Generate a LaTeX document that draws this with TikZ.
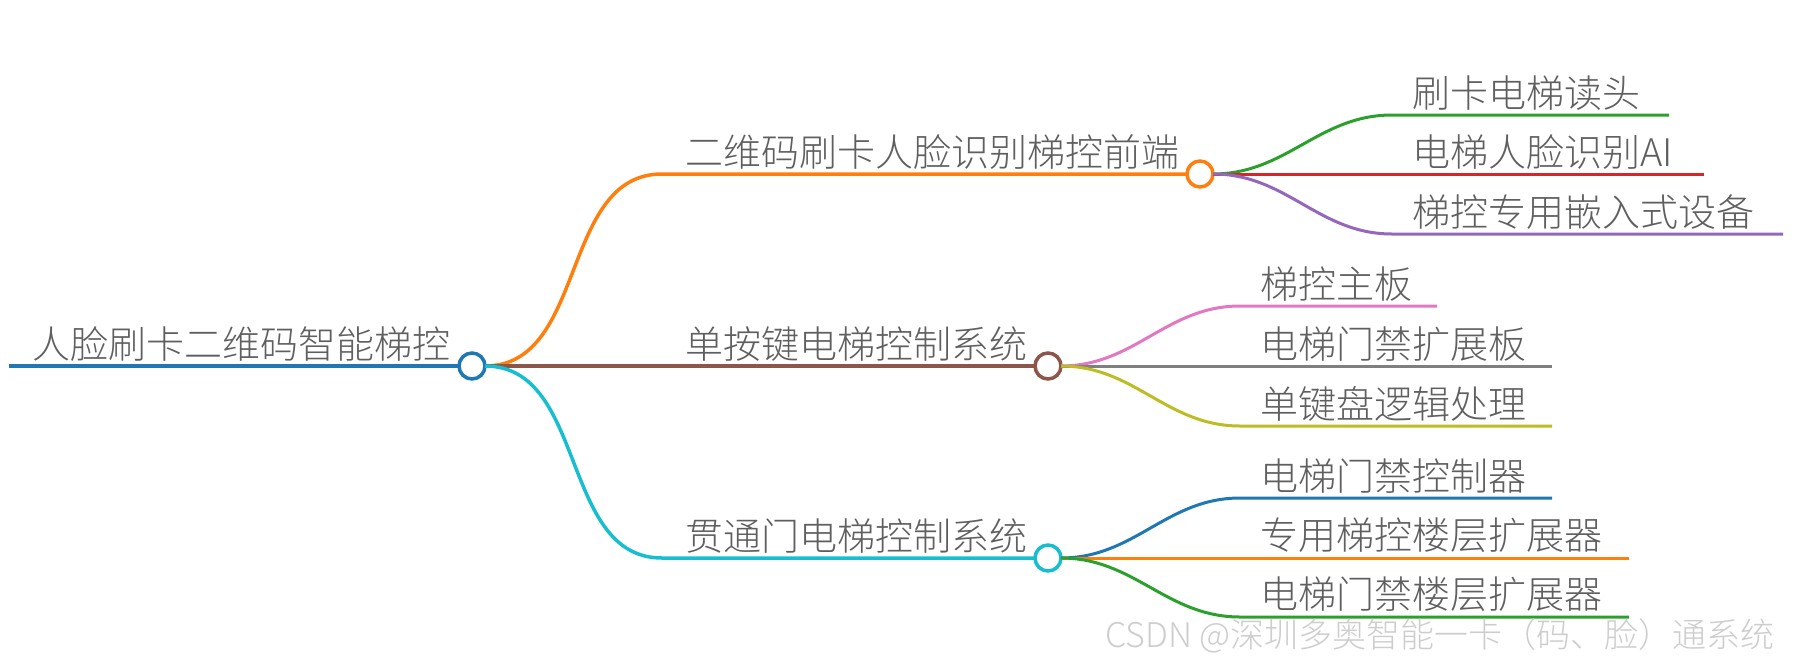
\documentclass[tikz,border=0pt]{standalone}
\usepackage{fontspec}
\setmainfont{Noto Sans CJK SC}[UprightFont=* Light]
\definecolor{txtgray}{RGB}{95,95,95}
\definecolor{wmgray}{RGB}{205,205,205}
\definecolor{cBlue}{RGB}{31,119,180}
\definecolor{cOrange}{RGB}{255,127,14}
\definecolor{cGreen}{RGB}{44,160,44}
\definecolor{cRed}{RGB}{214,39,40}
\definecolor{cPurple}{RGB}{148,103,189}
\definecolor{cBrown}{RGB}{140,86,75}
\definecolor{cPink}{RGB}{227,119,194}
\definecolor{cGray}{RGB}{127,127,127}
\definecolor{cOlive}{RGB}{188,189,34}
\definecolor{cCyan}{RGB}{23,190,207}
\begin{document}
\begin{tikzpicture}[x=1pt,y=-1pt,every node/.style={inner sep=0pt,outer sep=0pt},
    hub/.style={circle,draw,fill=white,line width=3.5pt,minimum size=26pt},
    lbl/.style={anchor=south west,text=txtgray,font=\fontsize{38}{40}\selectfont},
    br/.style={line width=3.5pt},leaf/.style={line width=3pt}]
    \useasboundingbox (0,0) rectangle (1796,670);
    % root
    \node[hub,draw=cBlue] (hubR) at (472,366) {};
    \node[lbl] (root) at (32,361) {人脸刷卡二维码智能梯控};
    \coordinate (start) at (9,366);
    \draw[br,cBlue] (start) -- (hubR.west);
    % first level
    \node[hub,draw=cOrange] (hubA) at (1200,174) {};
    \node[hub,draw=cBrown] (hubB) at (1048,366) {};
    \node[hub,draw=cCyan] (hubC) at (1048,558) {};
    \coordinate (a0) at (662,174);
    \coordinate (c0) at (662,558);
    \node[lbl] (ta) at (685,169) {二维码刷卡人脸识别梯控前端};
    \node[lbl] (tb) at (685,361) {单按键电梯控制系统};
    \node[lbl] (tc) at (685,553) {贯通门电梯控制系统};
    \draw[br,cOrange] (hubR.east) to[out=0,in=180] (a0) -- (hubA.west);
    \draw[br,cBrown] (hubR.east) -- (hubB.west);
    \draw[br,cCyan] (hubR.east) to[out=0,in=180] (c0) -- (hubC.west);
    % leaves of A
    \coordinate (a1s) at (1392,115); \coordinate (a1e) at (1669,115);
    \coordinate (a2s) at (1392,174); \coordinate (a2e) at (1704,174);
    \coordinate (a3s) at (1392,234); \coordinate (a3e) at (1783,234);
    \node[lbl] (ta1) at (1412,110) {刷卡电梯读头};
    \node[lbl] (ta2) at (1412,169) {电梯人脸识别AI};
    \node[lbl] (ta3) at (1412,229) {梯控专用嵌入式设备};
    \draw[leaf,cGreen] (hubA.east) to[out=0,in=180] (a1s) -- (a1e);
    \draw[leaf,cRed] (hubA.east) -- (a2s) -- (a2e);
    \draw[leaf,cPurple] (hubA.east) to[out=0,in=180] (a3s) -- (a3e);
    % leaves of B
    \coordinate (b1s) at (1240,306); \coordinate (b1e) at (1437,306);
    \coordinate (b2s) at (1240,366); \coordinate (b2e) at (1552,366);
    \coordinate (b3s) at (1240,426); \coordinate (b3e) at (1552,426);
    \node[lbl] (tb1) at (1260,301) {梯控主板};
    \node[lbl] (tb2) at (1260,361) {电梯门禁扩展板};
    \node[lbl] (tb3) at (1260,421) {单键盘逻辑处理};
    \draw[leaf,cPink] (hubB.east) to[out=0,in=180] (b1s) -- (b1e);
    \draw[leaf,cGray] (hubB.east) -- (b2s) -- (b2e);
    \draw[leaf,cOlive] (hubB.east) to[out=0,in=180] (b3s) -- (b3e);
    % leaves of C
    \coordinate (c1s) at (1240,498); \coordinate (c1e) at (1552,498);
    \coordinate (c2s) at (1240,558); \coordinate (c2e) at (1629,558);
    \coordinate (c3s) at (1240,617); \coordinate (c3e) at (1629,617);
    \node[lbl] (tc1) at (1260,493) {电梯门禁控制器};
    \node[lbl] (tc2) at (1260,553) {专用梯控楼层扩展器};
    \node[lbl] (tc3) at (1260,612) {电梯门禁楼层扩展器};
    \draw[leaf,cBlue] (hubC.east) to[out=0,in=180] (c1s) -- (c1e);
    \draw[leaf,cOrange] (hubC.east) -- (c2s) -- (c2e);
    \draw[leaf,cGreen] (hubC.east) to[out=0,in=180] (c3s) -- (c3e);
    % watermark
    \node[anchor=west,text=wmgray,font=\fontsize{34}{36}\selectfont] (wm) at (1105,636) {CSDN @深圳多奥智能一卡（码、脸）通系统};
\end{tikzpicture}
\end{document}
